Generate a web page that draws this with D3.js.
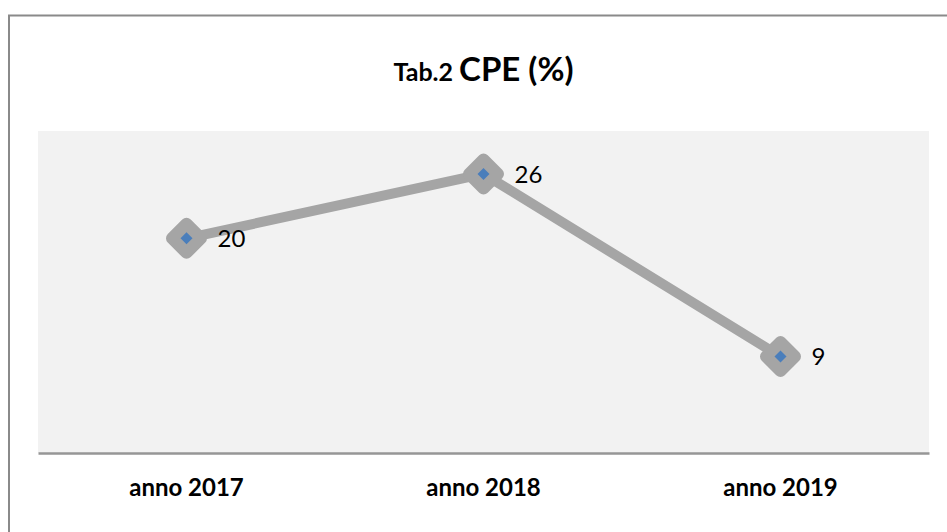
<!DOCTYPE html>
<html>
<head>
<meta charset="utf-8">
<script src="https://cdn.jsdelivr.net/npm/d3@7"></script>
<style>
  html, body { margin: 0; padding: 0; background: #fff; }
  svg { display: block; font-family: Lato, "Open Sans", sans-serif; }
</style>
</head>
<body>
<svg id="chart" width="947" height="532"></svg>
<script>
// chart data
const categories = ["anno 2017", "anno 2018", "anno 2019"];
const values = [20, 26, 9];
const yMax = 30;

const width = 947, height = 532;
const plot = { left: 38, right: 929, top: 131, bottom: 453 };

const svg = d3.select("#chart");

// outer chart border (runs off the right and bottom edge)
svg.append("rect")
    .attr("x", 9)
    .attr("y", 15.5)
    .attr("width", width)
    .attr("height", height)
    .attr("fill", "#fff")
    .attr("stroke", "#8a8a8a")
    .attr("stroke-width", 2);

const x = d3.scaleBand()
    .domain(categories)
    .range([plot.left, plot.right])
    .padding(0);

const y = d3.scaleLinear()
    .domain([0, yMax])
    .range([plot.bottom, plot.top]);

// plot area
svg.append("rect")
    .attr("x", plot.left)
    .attr("y", plot.top)
    .attr("width", plot.right - plot.left)
    .attr("height", plot.bottom - plot.top)
    .attr("fill", "#f2f2f2");

// category axis
const xAxis = svg.append("g")
    .attr("transform", `translate(0,${plot.bottom})`)
    .call(d3.axisBottom(x).tickSize(0).tickPadding(0));
xAxis.select(".domain")
    .attr("stroke", "#969696")
    .attr("stroke-width", 2.5);
xAxis.selectAll(".tick text")
    .attr("dy", null)
    .attr("y", 43)
    .attr("fill", "#000")
    .attr("font-family", "Lato, sans-serif")
    .attr("font-size", 24)
    .attr("font-weight", "bold");

// title
const title = svg.append("text")
    .attr("x", (plot.left + plot.right) / 2)
    .attr("y", 81)
    .attr("text-anchor", "middle")
    .attr("font-weight", "bold")
    .attr("fill", "#000");
title.append("tspan").attr("font-size", 25).text("Tab.2 ");
title.append("tspan").attr("font-size", 33).text("CPE (%)");

// series
const pts = categories.map((c, i) => ({ c, v: values[i] }));
const cx = d => x(d.c) + x.bandwidth() / 2;

svg.append("path")
    .datum(pts)
    .attr("fill", "none")
    .attr("stroke", "#a5a5a5")
    .attr("stroke-width", 10)
    .attr("stroke-linejoin", "round")
    .attr("d", d3.line().x(cx).y(d => y(d.v)));

const diamond = r => `M0,${-r}L${r},0L0,${r}L${-r},0Z`;

const marks = svg.append("g").selectAll("g")
    .data(pts)
    .join("g")
    .attr("transform", d => `translate(${cx(d)},${y(d.v)})`);

marks.append("path")
    .attr("d", diamond(14.5))
    .attr("fill", "#a5a5a5")
    .attr("stroke", "#a5a5a5")
    .attr("stroke-width", 12)
    .attr("stroke-linejoin", "round");

marks.append("path")
    .attr("d", diamond(6))
    .attr("fill", "#4a7ebb");

// data labels
svg.append("g").selectAll("text")
    .data(pts)
    .join("text")
    .attr("x", d => cx(d) + 31)
    .attr("y", d => y(d.v) + 9)
    .attr("font-size", 24)
    .attr("fill", "#000")
    .text(d => d.v);
</script>
</body>
</html>
